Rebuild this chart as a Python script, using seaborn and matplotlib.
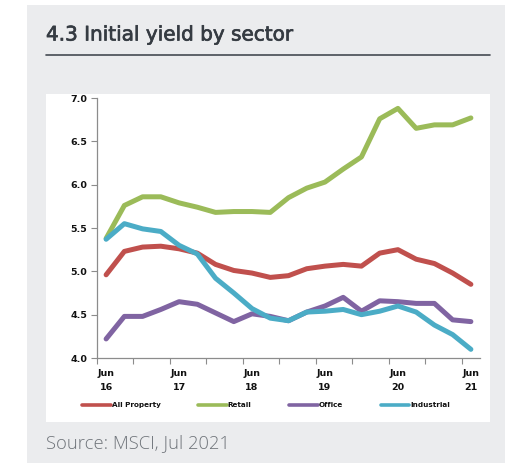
import numpy as np
import pandas as pd
import matplotlib
matplotlib.use("Agg")
import matplotlib.pyplot as plt
import matplotlib.patheffects as pe
from matplotlib.patches import Rectangle
from matplotlib.ticker import FixedLocator, NullFormatter
import seaborn as sns

# Quarterly initial yields (%), Jun 2016 - Jun 2021
quarters = ["Jun 16", "Sep 16", "Dec 16", "Mar 17", "Jun 17", "Sep 17", "Dec 17",
            "Mar 18", "Jun 18", "Sep 18", "Dec 18", "Mar 19", "Jun 19", "Sep 19",
            "Dec 19", "Mar 20", "Jun 20", "Sep 20", "Dec 20", "Mar 21", "Jun 21"]
all_property = [4.96, 5.23, 5.28, 5.29, 5.26, 5.21, 5.08, 5.01, 4.98, 4.93, 4.95,
                5.03, 5.06, 5.08, 5.06, 5.21, 5.25, 5.14, 5.09, 4.98, 4.85]
retail = [5.38, 5.76, 5.86, 5.86, 5.79, 5.74, 5.68, 5.69, 5.69, 5.68, 5.85,
          5.96, 6.03, 6.18, 6.32, 6.76, 6.88, 6.65, 6.69, 6.69, 6.77]
office = [4.22, 4.48, 4.48, 4.56, 4.65, 4.62, 4.52, 4.42, 4.51, 4.48, 4.43,
          4.53, 4.60, 4.70, 4.54, 4.66, 4.65, 4.63, 4.63, 4.44, 4.42]
industrial = [5.37, 5.55, 5.49, 5.46, 5.30, 5.20, 4.92, 4.75, 4.57, 4.46, 4.43,
              4.53, 4.54, 4.56, 4.50, 4.54, 4.60, 4.53, 4.38, 4.27, 4.10]
sectors = ["All Property", "Retail", "Office", "Industrial"]
tick_labels = ["Jun\n16", "Jun\n17", "Jun\n18", "Jun\n19", "Jun\n20", "Jun\n21"]
y_ticks = [4.0, 4.5, 5.0, 5.5, 6.0, 6.5, 7.0]

palette = {"All Property": "#C0504D", "Retail": "#9BBB59",
           "Office": "#8064A2", "Industrial": "#4BACC6"}

n = len(quarters)
df = pd.DataFrame({
    "q": np.tile(np.arange(n), 4),
    "yield": all_property + retail + office + industrial,
    "sector": np.repeat(sectors, n),
})

sns.set_style("white")
plt.rcParams["font.family"] = ["DejaVu Sans"]

W, H = 506, 463
fig = plt.figure(figsize=(W / 100, H / 100), dpi=100, facecolor="white")

# grey panel and white chart card
fig.patches.append(Rectangle((27 / W, 0), 1, 1 - 5 / H, transform=fig.transFigure,
                             facecolor="#EBECEE", edgecolor="none", zorder=-10))
fig.patches.append(Rectangle((46 / W, 1 - 422 / H), (490 - 46) / W, (422 - 94) / H,
                             transform=fig.transFigure, facecolor="white",
                             edgecolor="none", zorder=-9))

title = fig.text(46 / W, 1 - 35 / H, "4.3 Initial yield by sector", fontsize=14.4,
                 family="DejaVu Sans", weight="normal", color="#353B42", va="center")
title.set_path_effects([pe.withStroke(linewidth=0.5, foreground="#353B42")])
fig.add_artist(plt.Line2D([46 / W, 490 / W], [1 - 55 / H, 1 - 55 / H],
                          transform=fig.transFigure, color="#454B52", lw=1.2))
fig.text(46 / W, 1 - 443 / H, "Source: MSCI, Jul 2021", fontsize=13.2,
         family="Open Sans", weight="light", color="#6F747A", va="center")

ax = fig.add_axes([97 / W, 1 - 358 / H, (480 - 97) / W, (358 - 98) / H])
ax.set_facecolor("none")
sns.lineplot(data=df, x="q", y="yield", hue="sector", hue_order=sectors,
             palette=palette, linewidth=3.6, ax=ax, legend=True)
for line in ax.lines:
    line.set_solid_capstyle("round")
    line.set_solid_joinstyle("round")

ax.set_xlim(-0.5, n - 0.5)
ax.set_ylim(4.0, 7.0)
ax.set_yticks(y_ticks)
ax.set_yticklabels([f"{v:.1f}" for v in y_ticks])
ax.set_xticks(np.arange(0, n, 4))
ax.set_xticklabels(tick_labels, linespacing=1.75)
ax.xaxis.set_minor_locator(FixedLocator(np.arange(-0.5, n - 1, 2)))
ax.xaxis.set_minor_formatter(NullFormatter())
ax.tick_params(axis="x", which="major", length=0, pad=8, labelsize=6.8)
ax.tick_params(axis="x", which="minor", length=4, width=0.8, color="#8C8C8C",
               direction="out", bottom=True)
ax.tick_params(axis="y", length=4, width=0.8, color="#8C8C8C", direction="out",
               left=True, labelsize=6.8, pad=3)
for lab in ax.get_xticklabels() + ax.get_yticklabels():
    lab.set_fontweight("bold")
    lab.set_color("#111111")
ax.set_xlabel("")
ax.set_ylabel("")
sns.despine(ax=ax)
for s in ("left", "bottom"):
    ax.spines[s].set_color("#8C8C8C")
    ax.spines[s].set_linewidth(0.9)

handles, labels = ax.get_legend_handles_labels()
ax.legend_.remove()
for h in handles:
    h.set_linewidth(2.6)
leg = fig.legend(handles, labels, loc="center", ncol=4,
                 bbox_to_anchor=(266 / W, 1 - 405 / H), frameon=False,
                 handlelength=4.0, handletextpad=0.1, columnspacing=5.2,
                 prop={"size": 5.2, "weight": "bold"})
for t in leg.get_texts():
    t.set_color("#111111")

fig.savefig("out.png", dpi=100, facecolor="white")
